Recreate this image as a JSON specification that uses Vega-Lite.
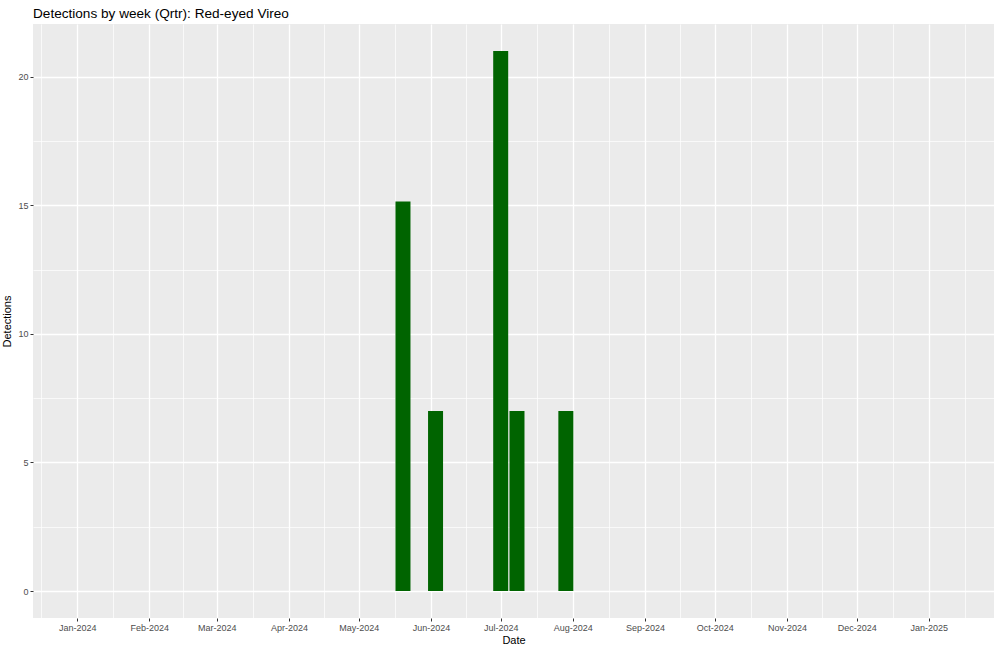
{
  "$schema": "https://vega.github.io/schema/vega-lite/v6.json",
  "autosize": "none",
  "width": 961,
  "height": 594,
  "padding": {"left": 33, "top": 24, "right": 6, "bottom": 33},
  "background": "white",
  "title": {
    "text": "Detections by week (Qrtr): Red-eyed Vireo",
    "anchor": "start",
    "frame": "group",
    "font": "Liberation Sans",
    "fontSize": 13.6,
    "fontWeight": "normal",
    "color": "#000000",
    "baseline": "alphabetic",
    "offset": -8
  },
  "config": {
    "view": {"fill": "#EBEBEB", "stroke": null},
    "axis": {
      "labelFont": "Liberation Sans",
      "titleFont": "Liberation Sans",
      "labelFontSize": 9,
      "labelColor": "#4D4D4D",
      "titleFontSize": 11,
      "titleFontWeight": "normal",
      "titleColor": "#000000",
      "tickColor": "#333333",
      "tickSize": 3,
      "tickWidth": 1,
      "domain": false,
      "gridColor": "#FFFFFF",
      "gridOpacity": 1
    }
  },
  "data": {
    "values": [
      {"week": "2024-05-20T00:00:00", "detections": 15.15},
      {"week": "2024-06-03T00:00:00", "detections": 7},
      {"week": "2024-07-01T00:00:00", "detections": 21},
      {"week": "2024-07-08T00:00:00", "detections": 7},
      {"week": "2024-07-29T00:00:00", "detections": 7}
    ]
  },
  "layer": [
    {
      "mark": {"type": "bar", "opacity": 0, "size": 15},
      "encoding": {
        "x": {
          "field": "week",
          "type": "temporal",
          "scale": {"domain": [{"year": 2023, "month": 12, "date": 13}, {"year": 2025, "month": 1, "date": 29}], "nice": false, "padding": 0},
          "axis": {
            "orient": "bottom",
            "labels": false,
            "ticks": false,
            "title": null,
            "grid": true,
            "gridWidth": 0.7,
            "values": [
              {"year": 2023, "month": 12, "date": 16, "hours": 12},
              {"year": 2024, "month": 1, "date": 16, "hours": 12},
              {"year": 2024, "month": 2, "date": 15, "hours": 12},
              {"year": 2024, "month": 3, "date": 16, "hours": 12},
              {"year": 2024, "month": 4, "date": 16},
              {"year": 2024, "month": 5, "date": 16, "hours": 12},
              {"year": 2024, "month": 6, "date": 16},
              {"year": 2024, "month": 7, "date": 16, "hours": 12},
              {"year": 2024, "month": 8, "date": 16, "hours": 12},
              {"year": 2024, "month": 9, "date": 16},
              {"year": 2024, "month": 10, "date": 16, "hours": 12},
              {"year": 2024, "month": 11, "date": 16},
              {"year": 2024, "month": 12, "date": 16, "hours": 12},
              {"year": 2025, "month": 1, "date": 16, "hours": 12}
            ]
          }
        },
        "y": {
          "field": "detections",
          "type": "quantitative",
          "scale": {"domain": [-1.05, 22.05], "nice": false, "zero": false, "padding": 0},
          "axis": {
            "orient": "left",
            "labels": false,
            "ticks": false,
            "title": null,
            "grid": true,
            "gridWidth": 0.7,
            "values": [2.5, 7.5, 12.5, 17.5]
          }
        }
      }
    },
    {
      "mark": {"type": "bar", "color": "#006400", "size": 15},
      "encoding": {
        "x": {
          "field": "week",
          "type": "temporal",
          "axis": {
            "orient": "bottom",
            "title": "Date",
            "titlePadding": 2,
            "format": "%b-%Y",
            "labelPadding": 2,
            "labelFlush": false,
            "labelOverlap": false,
            "grid": true,
            "gridWidth": 1.3,
            "values": [
              {"year": 2024, "month": 1, "date": 1},
              {"year": 2024, "month": 2, "date": 1},
              {"year": 2024, "month": 3, "date": 1},
              {"year": 2024, "month": 4, "date": 1},
              {"year": 2024, "month": 5, "date": 1},
              {"year": 2024, "month": 6, "date": 1},
              {"year": 2024, "month": 7, "date": 1},
              {"year": 2024, "month": 8, "date": 1},
              {"year": 2024, "month": 9, "date": 1},
              {"year": 2024, "month": 10, "date": 1},
              {"year": 2024, "month": 11, "date": 1},
              {"year": 2024, "month": 12, "date": 1},
              {"year": 2025, "month": 1, "date": 1}
            ]
          }
        },
        "y": {
          "field": "detections",
          "type": "quantitative",
          "axis": {
            "orient": "left",
            "title": "Detections",
            "titlePadding": 5,
            "labelPadding": 2,
            "grid": true,
            "gridWidth": 1.3,
            "values": [0, 5, 10, 15, 20]
          }
        },
        "y2": {"datum": 0}
      }
    }
  ],
  "resolve": {"axis": {"x": "independent", "y": "independent"}}
}
